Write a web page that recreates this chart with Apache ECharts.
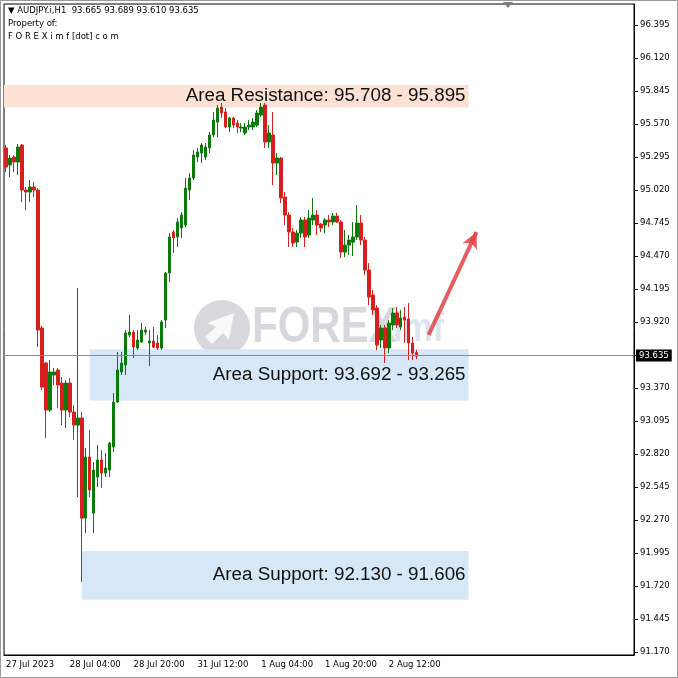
<!DOCTYPE html>
<html><head><meta charset="utf-8">
<script src="https://cdn.jsdelivr.net/npm/echarts@6/dist/echarts.min.js"></script>
<style>html,body{margin:0;padding:0;background:#fff}#c{width:678px;height:678px}</style>
</head><body><div id="c"></div>
<script>
// ---- data (H1 candles, AUDJPY.i) ----
const opens  = [95.370,95.228,95.295,95.253,95.395,95.020,95.003,95.045,95.020,93.870,93.578,93.186,93.478,93.520,93.411,93.186,93.411,93.170,93.061,93.120,92.286,92.795,92.328,92.628,92.770,92.661,92.686,92.878,93.253,93.503,93.561,93.811,93.836,93.703,93.753,93.836,93.745,93.761,93.745,93.703,93.936,94.328,94.670,94.628,94.703,94.728,95.020,95.120,95.295,95.328,95.295,95.370,95.478,95.586,95.711,95.670,95.545,95.620,95.578,95.536,95.495,95.545,95.545,95.561,95.645,95.728,95.420,95.478,95.245,95.286,94.961,94.811,94.670,94.586,94.661,94.770,94.645,94.770,94.811,94.736,94.728,94.770,94.753,94.803,94.753,94.503,94.561,94.586,94.628,94.745,94.603,94.353,94.145,94.036,93.770,93.870,93.703,93.895,93.995,93.878,93.961,93.945,93.745,93.665];
const highs  = [95.395,95.311,95.311,95.403,95.403,95.045,95.103,95.086,95.036,93.886,93.586,93.603,93.536,93.536,93.461,93.436,93.453,93.228,94.203,93.170,92.870,93.020,92.753,92.895,92.853,92.828,92.920,93.328,93.670,93.670,93.853,93.978,93.853,93.853,93.911,93.878,93.853,93.878,93.811,93.936,94.336,94.661,94.686,94.786,94.836,95.120,95.161,95.353,95.370,95.411,95.411,95.503,95.670,95.728,95.745,95.703,95.628,95.628,95.603,95.578,95.578,95.603,95.620,95.686,95.745,95.745,95.561,95.670,95.328,95.295,95.003,94.836,94.703,94.686,94.795,94.795,94.853,94.953,94.853,94.745,94.786,94.811,94.828,94.828,94.770,94.686,94.645,94.753,94.895,94.811,94.628,94.411,94.186,94.061,93.895,93.895,93.936,94.036,94.045,94.020,94.045,94.078,93.795,93.689];
const lows   = [95.170,95.128,95.170,95.145,94.920,94.853,94.920,94.961,93.711,93.353,92.953,93.170,93.395,93.203,93.061,93.036,93.128,92.936,92.461,91.753,92.161,92.461,92.161,92.545,92.536,92.628,92.628,92.836,93.245,93.478,93.478,93.795,93.620,93.686,93.745,93.811,93.553,93.703,93.686,93.686,93.870,94.253,94.495,94.545,94.620,94.711,94.936,95.103,95.253,95.245,95.270,95.328,95.461,95.461,95.620,95.536,95.503,95.536,95.495,95.503,95.478,95.520,95.520,95.545,95.628,95.370,95.370,95.061,95.145,94.911,94.728,94.545,94.545,94.545,94.620,94.545,94.620,94.728,94.645,94.670,94.661,94.711,94.728,94.745,94.453,94.461,94.478,94.470,94.603,94.561,94.311,94.061,93.978,93.686,93.703,93.578,93.661,93.853,93.870,93.853,93.745,93.603,93.603,93.610];
const closes = [95.211,95.286,95.253,95.378,95.020,95.003,95.045,95.020,93.853,93.378,93.186,93.503,93.503,93.395,93.186,93.411,93.170,93.061,93.120,92.286,92.795,92.520,92.686,92.770,92.661,92.703,92.911,93.253,93.520,93.578,93.828,93.836,93.711,93.770,93.853,93.853,93.761,93.711,93.703,93.920,94.328,94.628,94.620,94.753,94.811,95.036,95.120,95.311,95.336,95.395,95.378,95.478,95.603,95.703,95.661,95.545,95.620,95.561,95.545,95.545,95.545,95.561,95.586,95.661,95.711,95.420,95.495,95.245,95.286,94.953,94.811,94.670,94.578,94.661,94.770,94.628,94.786,94.811,94.728,94.703,94.770,94.753,94.803,94.753,94.503,94.561,94.603,94.628,94.745,94.603,94.353,94.128,94.020,93.728,93.870,93.703,93.911,93.995,93.895,93.953,93.936,93.745,93.661,93.635];
const lastPrice = 93.635;
const yTicks = [91.170,91.445,91.720,91.995,92.270,92.545,92.820,93.095,93.370,93.645,93.920,94.195,94.470,94.745,95.020,95.295,95.570,95.845,96.120,96.395];
const xTickIndex  = [0,16,32,48,64,80,96];
const xTickLabels = ['27 Jul 2023','28 Jul 04:00','28 Jul 20:00','31 Jul 12:00','1 Aug 04:00','1 Aug 20:00','2 Aug 12:00'];
const resistance = {label:'Area Resistance: 95.708 - 95.895', top:95.895, bottom:95.708, from:null, to:116};
const support1   = {label:'Area Support: 93.692 - 93.265', top:93.692, bottom:93.265, from:21, to:116};
const support2   = {label:'Area Support: 92.130 - 91.606', top:92.012, bottom:91.606, from:19, to:116};
const arrowFrom = [106, 93.812], arrowTo = [118, 94.67];
const totalSlots = 158;

// ---- category slots (hourly, weekend skipped) ----
const cats = [];
{ let t = Date.UTC(2023,6,27,12);
  while (cats.length < totalSlots) { const d = new Date(t); const wd = d.getUTCDay();
    if (wd !== 0 && wd !== 6) cats.push(d.toISOString().slice(0,13)); t += 3600000; } }

const candles = opens.map((o,i)=>[o, closes[i], lows[i], highs[i]]);
const GREEN='#0b7a0b', RED='#d81f1f';
const FONT='DejaVu Sans';

function box(b){
  const p0 = {yAxis:b.top}; if (b.from!==null) p0.xAxis=b.from;
  return [Object.assign(p0,{name:b.label}), {yAxis:b.bottom, xAxis:b.to}];
}

const chart = echarts.init(document.getElementById('c'));
chart.setOption({
  animation:false,
  backgroundColor:'#fff',
  grid:{left:4, right:44, top:4, bottom:23, show:true, borderColor:'#000', borderWidth:1},
  xAxis:{type:'category', data:cats, boundaryGap:true,
    axisLine:{lineStyle:{color:'#000'}},
    axisTick:{alignWithLabel:true, length:3, interval:(i)=>xTickIndex.includes(i), lineStyle:{color:'#000'}},
    axisLabel:{interval:(i)=>xTickIndex.includes(i), align:'left', margin:5, fontSize:8.5, fontFamily:FONT, color:'#000',
      formatter:(v,i)=>{const k=xTickIndex.indexOf(i); return k>=0?xTickLabels[k]:'';}},
    splitLine:{show:false}},
  yAxis:{type:'value', position:'right', min:91.145, max:96.570, scale:true,
    axisLine:{show:true, lineStyle:{color:'#000'}},
    axisTick:{show:true, length:4, customValues:yTicks, lineStyle:{color:'#000'}},
    axisLabel:{customValues:yTicks, margin:6, fontSize:8.5, fontFamily:FONT, color:'#000', formatter:(v)=>v.toFixed(3)},
    splitLine:{show:false}},
  series:[
    {type:'line', data:[], z:1, silent:true,
      markArea:{silent:true, itemStyle:{color:'#d6e7f8'},
        label:{show:true, position:'insideRight', distance:3, fontSize:18.8, fontFamily:'Liberation Sans', color:'#111'},
        data:[
          (()=>{const a=box(resistance); a[0].itemStyle={color:'#fde1d5'}; return a;})(),
          box(support1), box(support2)
        ]}},
    {type:'candlestick', z:3, data:candles, barWidth:3,
      itemStyle:{color:GREEN, color0:RED, borderColor:GREEN, borderColor0:RED, borderWidth:1},
      markLine:{silent:true, symbol:['none','none'], animation:false,
        lineStyle:{color:'#8a8a8a', width:1, type:'solid'},
        label:{show:true, position:'end', distance:2, formatter:()=>lastPrice.toFixed(3), backgroundColor:'#000', color:'#fff', padding:[2,3,1,3], fontSize:8.5, fontFamily:FONT},
        data:[{yAxis:lastPrice}]}},
    {type:'line', data:[], z:5, silent:true,
      markLine:{silent:true, symbol:['none','arrow'], symbolSize:[12,16],
        lineStyle:{color:'rgba(224,66,68,0.85)', width:4, type:'solid'}, label:{show:false},
        data:[[{coord:arrowFrom},{coord:arrowTo}]]}}
  ],
  graphic:[
    {type:'rect', shape:{x:0.5,y:0.5,width:677,height:677}, style:{fill:'none', stroke:'#9a9a9a', lineWidth:1}, z:100},
    {type:'polygon', shape:{points:[[503,2],[513,2],[508,8]]}, style:{fill:'#808080'}, z:100},
    {type:'text', left:8, top:6, style:{text:'▼ AUDJPY.i,H1  93.665 93.689 93.610 93.635', fontSize:8.5, fontFamily:FONT, fill:'#000'}, z:100},
    {type:'text', left:8, top:19, style:{text:'Property of:', fontSize:8.5, fontFamily:FONT, fill:'#000'}, z:100},
    {type:'text', left:8, top:32, style:{text:'F O R E X i m f [dot] c o m', fontSize:8.5, fontFamily:FONT, fill:'#000'}, z:100},
    // watermark
    {type:'group', z:0, silent:true, children:[
      {type:'circle', shape:{cx:222, cy:328, r:28}, style:{fill:'rgba(150,150,165,0.38)'}},
      {type:'polygon', shape:{points:[[207,323],[234,313],[229,340],[223,333],[212,344],[205,337],[216,327]]}, style:{fill:'rgba(255,255,255,0.85)'}},
      {type:'text', x:252, y:328, scaleY:1.2, originX:0, originY:0, style:{text:'FOREX', fontSize:42, fontWeight:'bold', fontFamily:'Liberation Sans', fill:'rgba(150,150,165,0.38)', verticalAlign:'middle'}},
      {type:'text', x:393, y:330, scaleY:1.2, originX:0, originY:0, style:{text:'imf', fontSize:34, fontWeight:'bold', fontFamily:'Liberation Sans', fill:'rgba(140,165,205,0.3)', verticalAlign:'middle'}}
    ]}
  ]
});
</script></body></html>
